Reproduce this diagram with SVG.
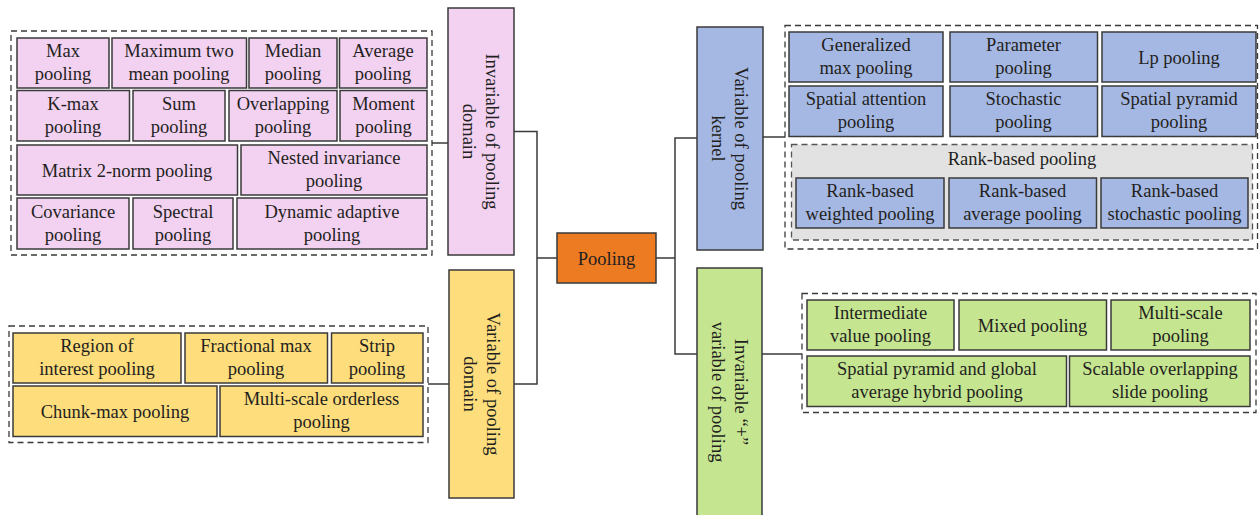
<svg xmlns="http://www.w3.org/2000/svg" width="1259" height="515" viewBox="0 0 1259 515">
<style>
text{font-family:"Liberation Serif","Times New Roman",serif;font-size:18.5px;fill:#231f20;text-anchor:middle}
.b{stroke:#3a3a3a;stroke-width:1.5}
.pk{fill:#f2d1f1}.bl{fill:#a5b8e3}.gr{fill:#c6e591}.ye{fill:#fddd7c}.or{fill:#ed7b22}
.dash{fill:none;stroke:#3a3a3a;stroke-width:1.3;stroke-dasharray:6,4}
.rank{fill:#e2e2e2;stroke:#555;stroke-width:1.3;stroke-dasharray:6,4}
.c{fill:none;stroke:#3a3a3a;stroke-width:1.5}
</style>
<g id="connectors">
<path class="c" d="M432,143H448"/>
<path class="c" d="M514,131.5H537V384H514M537,258H557"/>
<path class="c" d="M428,384H449"/>
<path class="c" d="M656,258H675M697,138H675V354H697"/>
<path class="c" d="M763,137H785"/>
<path class="c" d="M762,354H802"/>
</g>
<g id="pooling"><rect class="b or" x="557" y="233" width="99" height="50"/><text x="606.5" y="264.5">Pooling</text></g>

<g id="invariable-domain"><rect class="b pk" x="448" y="8" width="66" height="247"/>
<g transform="translate(481,131.5) rotate(90)"><text x="0" y="-5">Invariable of pooling</text><text x="0" y="18">domain</text></g></g>
<g id="variable-domain"><rect class="b ye" x="449" y="270" width="65" height="228"/>
<g transform="translate(481.5,384) rotate(90)"><text x="0" y="-5">Variable of pooling</text><text x="0" y="18">domain</text></g></g>
<g id="variable-kernel"><rect class="b bl" x="697" y="27" width="66" height="223"/>
<g transform="translate(730,138.5) rotate(90)"><text x="0" y="-5">Variable of pooling</text><text x="0" y="18">kernel</text></g></g>
<g id="invariable-plus-variable"><rect class="b gr" x="697" y="268" width="65" height="252"/>
<g transform="translate(729.5,392) rotate(90)"><text x="0" y="-5">Invariable “+”</text><text x="0" y="18">variable of pooling</text></g></g>

<g id="group-invariable-domain">
<rect class="dash" x="11" y="31" width="421" height="224"/>
<g id="max-pooling"><rect class="b pk" x="17" y="38" width="92" height="50"/><text x="63" y="57">Max</text><text x="63" y="80">pooling</text></g>
<g id="max-two-mean"><rect class="b pk" x="112" y="38" width="134.5" height="50"/><text x="179" y="57">Maximum two</text><text x="179" y="80">mean pooling</text></g>
<g id="median"><rect class="b pk" x="249" y="38" width="88" height="50"/><text x="293" y="57">Median</text><text x="293" y="80">pooling</text></g>
<g id="average"><rect class="b pk" x="339.5" y="38" width="87.5" height="50"/><text x="383" y="57">Average</text><text x="383" y="80">pooling</text></g>
<g id="kmax"><rect class="b pk" x="17" y="90.5" width="112.5" height="50.5"/><text x="73" y="109.5">K-max</text><text x="73" y="132.5">pooling</text></g>
<g id="sum"><rect class="b pk" x="133" y="90.5" width="92" height="50.5"/><text x="179" y="109.5">Sum</text><text x="179" y="132.5">pooling</text></g>
<g id="overlapping"><rect class="b pk" x="229" y="90.5" width="108" height="50.5"/><text x="283" y="109.5">Overlapping</text><text x="283" y="132.5">pooling</text></g>
<g id="moment"><rect class="b pk" x="340" y="90.5" width="87" height="50.5"/><text x="383.5" y="109.5">Moment</text><text x="383.5" y="132.5">pooling</text></g>
<g id="matrix"><rect class="b pk" x="17" y="145" width="220.5" height="50"/><text x="127" y="176.5">Matrix 2-norm pooling</text></g>
<g id="nested"><rect class="b pk" x="241" y="145" width="186" height="50"/><text x="334" y="164">Nested invariance</text><text x="334" y="187">pooling</text></g>
<g id="covariance"><rect class="b pk" x="17" y="198" width="112" height="51"/><text x="73" y="217.5">Covariance</text><text x="73" y="240.5">pooling</text></g>
<g id="spectral"><rect class="b pk" x="133" y="198" width="100" height="51"/><text x="183" y="217.5">Spectral</text><text x="183" y="240.5">pooling</text></g>
<g id="dynamic"><rect class="b pk" x="237" y="198" width="190" height="51"/><text x="332" y="217.5">Dynamic adaptive</text><text x="332" y="240.5">pooling</text></g>
</g>

<g id="group-variable-domain">
<rect class="dash" x="9" y="326" width="419" height="116.5"/>
<g id="roi"><rect class="b ye" x="13" y="333" width="168" height="50"/><text x="97" y="352">Region of</text><text x="97" y="375">interest pooling</text></g>
<g id="fractional"><rect class="b ye" x="185" y="333" width="142.5" height="50"/><text x="256" y="352">Fractional max</text><text x="256" y="375">pooling</text></g>
<g id="strip"><rect class="b ye" x="331.5" y="333" width="91.5" height="50"/><text x="377" y="352">Strip</text><text x="377" y="375">pooling</text></g>
<g id="chunk"><rect class="b ye" x="13" y="386" width="204" height="50.5"/><text x="115" y="417.5">Chunk-max pooling</text></g>
<g id="multiscale-orderless"><rect class="b ye" x="220" y="386" width="203" height="50.5"/><text x="321.5" y="405">Multi-scale orderless</text><text x="321.5" y="428">pooling</text></g>
</g>

<g id="group-variable-kernel">
<rect class="dash" x="785" y="25.5" width="472.5" height="223.5"/>
<g id="generalized"><rect class="b bl" x="789" y="32" width="154" height="50"/><text x="866" y="51">Generalized</text><text x="866" y="74">max pooling</text></g>
<g id="parameter"><rect class="b bl" x="950" y="32" width="147.5" height="50"/><text x="1023.5" y="51">Parameter</text><text x="1023.5" y="74">pooling</text></g>
<g id="lp"><rect class="b bl" x="1102" y="32" width="154" height="50"/><text x="1179" y="63.5">Lp pooling</text></g>
<g id="spatial-attention"><rect class="b bl" x="789" y="86" width="154" height="50.5"/><text x="866" y="105">Spatial attention</text><text x="866" y="128">pooling</text></g>
<g id="stochastic"><rect class="b bl" x="950" y="86" width="147.5" height="50.5"/><text x="1023.5" y="105">Stochastic</text><text x="1023.5" y="128">pooling</text></g>
<g id="spatial-pyramid"><rect class="b bl" x="1102" y="86" width="154" height="50.5"/><text x="1179" y="105">Spatial pyramid</text><text x="1179" y="128">pooling</text></g>
<g id="rank-based">
<rect class="rank" x="791.5" y="144.5" width="461" height="95.5"/>
<text x="1022" y="165">Rank-based pooling</text>
<g id="rank-weighted"><rect class="b bl" x="796" y="178" width="148" height="50"/><text x="870" y="197">Rank-based</text><text x="870" y="220">weighted pooling</text></g>
<g id="rank-average"><rect class="b bl" x="949" y="178" width="147.5" height="50"/><text x="1022.5" y="197">Rank-based</text><text x="1022.5" y="220">average pooling</text></g>
<g id="rank-stochastic"><rect class="b bl" x="1101" y="178" width="147" height="50"/><text x="1174.5" y="197">Rank-based</text><text x="1174.5" y="220">stochastic pooling</text></g>
</g>
</g>

<g id="group-invariable-plus-variable">
<rect class="dash" x="802" y="293.5" width="454" height="119"/>
<g id="intermediate"><rect class="b gr" x="807" y="300" width="147" height="50"/><text x="880.5" y="319">Intermediate</text><text x="880.5" y="342">value pooling</text></g>
<g id="mixed"><rect class="b gr" x="959" y="300" width="147.5" height="50"/><text x="1032.5" y="331.5">Mixed pooling</text></g>
<g id="multiscale"><rect class="b gr" x="1111" y="300" width="139" height="50"/><text x="1180.5" y="319">Multi-scale</text><text x="1180.5" y="342">pooling</text></g>
<g id="spp-gap"><rect class="b gr" x="807" y="356" width="259.5" height="50.5"/><text x="937" y="375">Spatial pyramid and global</text><text x="937" y="398">average hybrid pooling</text></g>
<g id="scalable"><rect class="b gr" x="1069.5" y="356" width="180.5" height="50.5"/><text x="1160" y="375">Scalable overlapping</text><text x="1160" y="398">slide pooling</text></g>
</g>
</svg>
